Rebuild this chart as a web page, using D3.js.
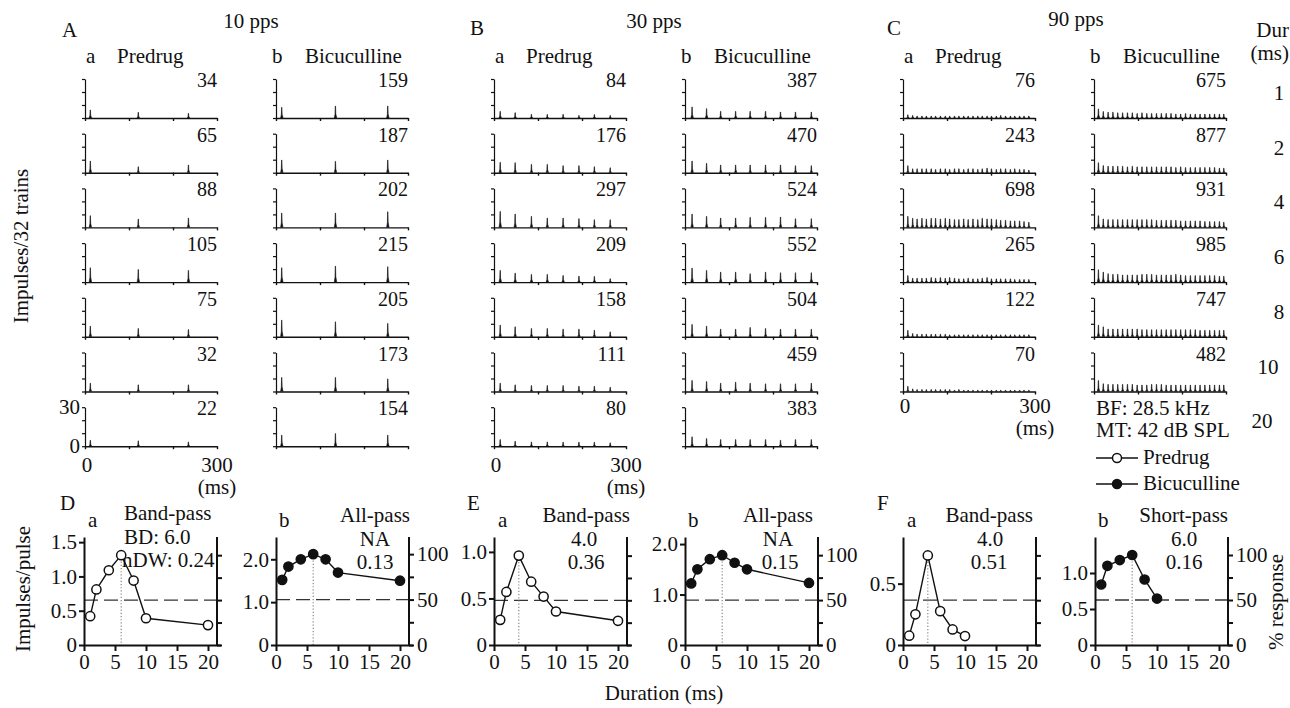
<!DOCTYPE html>
<html>
<head>
<meta charset="utf-8">
<script src="https://cdnjs.cloudflare.com/ajax/libs/d3/7.8.5/d3.min.js"></script>
<style>
  body { margin: 0; background: #fff; }
  svg { display: block; }
  text { font-family: "Liberation Serif", "Times New Roman", serif; fill: #111; }
</style>
</head>
<body>
<div id="chart"></div>
<script>
// ---- data ----
const durations = [1, 2, 4, 6, 8, 10, 20];
const durLabels = ["1", "2", "4", "6", "8", "10", "20"];

// total impulses per duration (rows)
const countsA_pre = [34, 65, 88, 105, 75, 32, 22];
const countsA_bic = [159, 187, 202, 215, 205, 173, 154];
const countsB_pre = [84, 176, 297, 209, 158, 111, 80];
const countsB_bic = [387, 470, 524, 552, 504, 459, 383];
const countsC_pre = [76, 243, 698, 265, 122, 70];
const countsC_bic = [675, 877, 931, 985, 747, 482];

// pulse response times in the histograms (ms)
const timesA_pre = [12, 121, 235];
const timesA_bic = [13, 135, 254];
const timesB_pre = [14, 48, 85, 121, 157, 193, 228, 264];
const timesB_bic = [16, 49, 81, 115, 148, 183, 217, 251, 287];
const timesC_pre = [11, 22, 32, 43, 53, 64, 74, 85, 96, 106, 117, 127, 138, 148, 159, 170, 180, 191, 201, 212, 222, 233, 244, 254, 265, 275, 286];
const timesC_bic = [10, 21, 32, 43, 54, 65, 76, 87, 98, 109, 120, 131, 142, 153, 164, 175, 186, 197, 208, 219, 230, 241, 252, 263, 274, 285, 295];

// peak bin heights (impulses/32 trains), one list per duration row
const peaksA_pre = [
  [6.2, 4.4, 3.6], [9.0, 4.6, 5.9], [9.0, 6.4, 7.2], [11, 9.7, 9.0],
  [8.2, 6.4, 5.6], [6.4, 5.1, 5.1], [4.6, 4.1, 3.3]
];
const peaksA_bic = [
  [8.2, 9.2, 9.2], [9.7, 8.7, 9.7], [11, 11, 12], [11, 12.3, 11.8],
  [12.8, 11.5, 10.3], [10.8, 10.8, 9.7], [8.5, 9.7, 8.5]
];
const peaksB_pre = [
  [5.1, 4.1, 2.8, 2.8, 2.8, 2.0, 2.6, 2.0],
  [8.0, 7.7, 6.4, 6.4, 5.4, 5.4, 4.6, 3.8],
  [12.3, 10.3, 8.5, 7.2, 7.2, 6.7, 5.9, 5.9],
  [9.0, 6.9, 5.9, 5.9, 5.1, 4.6, 4.4, 2.6],
  [9.0, 7.7, 6.4, 6.4, 5.9, 5.9, 5.1, 3.8],
  [6.4, 5.1, 4.6, 4.6, 4.6, 4.1, 4.1, 3.3],
  [5.1, 3.8, 3.3, 3.3, 3.1, 3.1, 3.1, 2.6]
];
const peaksB_bic = [
  [8.5, 7.2, 5.1, 5.1, 5.1, 5.1, 4.6, 4.6, 4.6],
  [9.0, 7.2, 5.9, 5.9, 5.9, 5.9, 5.9, 5.4, 5.4],
  [10.3, 8.5, 7.2, 7.2, 7.7, 7.7, 8.0, 6.7, 6.7],
  [10.8, 9.0, 7.7, 7.7, 6.4, 7.7, 7.2, 7.2, 7.2],
  [9.5, 8.2, 5.9, 5.9, 7.2, 6.4, 5.9, 5.9, 5.9],
  [8.5, 7.7, 6.4, 7.2, 6.4, 5.9, 5.9, 5.9, 6.4],
  [7.2, 5.9, 5.1, 5.1, 5.1, 5.1, 4.6, 5.1, 5.1]
];
const peaksC_pre = [
  [2.5, 2, 1.5, 1.5, 1.5, 1.5, 1.5, 1.5, 1.5, 1.5, 1.5, 1.5, 1.5, 1.5, 1.5, 1.5, 1.5, 1.5, 1.5, 1.5, 2, 1.5, 1.5, 1.5, 1.5, 1.5, 1.5],
  [5.4, 3, 3, 3, 3, 3, 2.5, 3, 3, 2.5, 3, 3, 2.5, 3, 3, 2.5, 3, 3.5, 3, 2.5, 3, 3, 2.5, 3, 2.5, 2.5, 2],
  [8.5, 7, 6.5, 7, 6.5, 7, 7, 6.5, 7, 6.5, 6, 6, 6.5, 6, 6.5, 6, 7, 6.5, 6.5, 6, 5.5, 5.5, 5, 5, 5, 4.5, 4],
  [5, 3, 3, 3, 3, 3.5, 3, 3.5, 3, 3.5, 3, 2.5, 2.5, 3, 2.5, 2.5, 3, 3.5, 2.5, 2.5, 2.5, 2.5, 2.5, 2, 2, 2, 2],
  [5, 2.5, 2, 2, 2, 2, 2, 2, 2, 1.5, 1.5, 1.5, 1.5, 1.5, 1.5, 1.5, 1.5, 1.5, 1.5, 1.5, 1.5, 1.5, 1.5, 1.5, 1.5, 1.5, 1.5],
  [4, 2, 1.5, 1.5, 1.5, 1.5, 1.5, 1.5, 1.5, 1.5, 1, 1.5, 1, 1, 1, 1, 1, 1, 1, 1, 1, 1, 1, 1, 1, 1, 1]
];
const peaksC_bic = [
  [7, 5, 4.5, 4.5, 4, 4, 4, 4, 3.5, 4, 3.5, 3.5, 3.5, 3.5, 3.5, 3.5, 3, 3, 3.5, 3, 3, 3, 3, 3, 3, 3, 3],
  [7.7, 5.5, 5, 5, 5, 5, 4.5, 5, 4.5, 4.5, 4.5, 4.5, 4.5, 4.5, 4.5, 4.5, 4, 4.5, 4, 4, 4, 4, 4, 4, 4, 3.5, 3.5],
  [9, 6.5, 6, 6, 6, 6, 6, 6, 6, 6, 6, 6, 5.5, 5.5, 5.5, 5.5, 5.5, 5, 5, 5, 5, 5, 4.5, 4.5, 4.5, 4.5, 4],
  [9.5, 7.7, 6.5, 6, 6, 5.5, 5.5, 5.5, 5.5, 6, 6, 6, 5.5, 5.5, 5.5, 5.5, 6, 5.5, 5, 5, 5, 5, 5, 5, 5, 4.5, 4.5],
  [9, 7.7, 6, 6, 6, 6, 6, 6, 6, 5.5, 5.5, 5.5, 5.5, 5.5, 5.5, 5.5, 5.5, 5.5, 5.5, 5.5, 5.5, 5, 5, 5, 5, 5, 5],
  [8.5, 6, 5.5, 5.5, 5.5, 5.5, 5.5, 5.5, 5, 5, 5, 5.5, 5.5, 5.5, 5, 5, 5, 5, 5, 5, 5, 5, 5, 5, 5, 5, 5]
];

// impulses per pulse vs duration
const ippD_pre = [0.42, 0.81, 1.09, 1.31, 0.94, 0.39, 0.29];
const ippD_bic = [1.52, 1.83, 2.00, 2.12, 2.00, 1.69, 1.50];
const ippE_pre = [0.27, 0.57, 0.96, 0.68, 0.52, 0.36, 0.26];
const ippE_bic = [1.22, 1.50, 1.70, 1.78, 1.63, 1.50, 1.23];
const ippF_pre = [0.076, 0.25, 0.73, 0.276, 0.127, 0.073];
const ippF_bic = [0.84, 1.10, 1.18, 1.25, 0.91, 0.645];

const filterTypes = ["Band-pass", "All-pass", "Band-pass", "All-pass", "Band-pass", "Short-pass"];
const bdLabels = ["BD: 6.0", "NA", "4.0", "NA", "4.0", "6.0"];
const ndwLabels = ["nDW: 0.24", "0.13", "0.36", "0.15", "0.51", "0.16"];

// ---- layout ----
const W = 1290, H = 708;
const FS = 21;

const svg = d3.select("#chart").append("svg")
  .attr("width", W).attr("height", H)
  .attr("viewBox", [0, 0, W, H]);

function txt(x, y, s, anchor, size) {
  return svg.append("text")
    .attr("x", x).attr("y", y)
    .attr("text-anchor", anchor || "start")
    .attr("font-size", size || FS)
    .text(s);
}

function styleAxis(g, sw) {
  g.selectAll("path, line").attr("stroke", "#111").attr("stroke-width", sw);
  g.selectAll("text")
    .attr("font-family", '"Liberation Serif", "Times New Roman", serif')
    .attr("font-size", FS).attr("fill", "#111");
}

// ---- top: PSTH rows ----
const rowBase0 = 118, rowStep = 54.7, rowH = 39, panelW = 132;

const topPanels = [
  { x0: 85,   counts: countsA_pre, times: timesA_pre, peaks: peaksA_pre },
  { x0: 276,  counts: countsA_bic, times: timesA_bic, peaks: peaksA_bic },
  { x0: 494,  counts: countsB_pre, times: timesB_pre, peaks: peaksB_pre },
  { x0: 685,  counts: countsB_bic, times: timesB_bic, peaks: peaksB_bic },
  { x0: 903,  counts: countsC_pre, times: timesC_pre, peaks: peaksC_pre },
  { x0: 1094, counts: countsC_bic, times: timesC_bic, peaks: peaksC_bic }
];

const spikeShape = [[-2.6, 0], [-0.9, 0.3], [-0.3, 1], [0.4, 1], [0.9, 0.35], [3, 0]];

topPanels.forEach((p, pi) => {
  const x = d3.scaleLinear([0, 300], [p.x0, p.x0 + panelW]);
  p.counts.forEach((c, ri) => {
    const base = rowBase0 + rowStep * ri;
    const y = d3.scaleLinear([0, 30], [base, base - rowH]);

    const spike = d3.line().x(d => d[0]).y(d => d[1]);
    p.times.forEach((t, k) => {
      const h = p.peaks[ri][k];
      svg.append("path")
        .attr("d", spike(spikeShape.map(s => [x(t + s[0]), y(h * s[1])])))
        .attr("fill", "#111").attr("stroke", "#111").attr("stroke-width", 0.6);
    });

    const showY = pi === 0 && ri === p.counts.length - 1;
    const gy = svg.append("g")
      .attr("transform", `translate(${p.x0},0)`)
      .call(d3.axisLeft(y).tickValues([0, 10, 20, 30]).tickSize(3).tickSizeOuter(0)
        .tickPadding(2)
        .tickFormat(d => showY && (d === 0 || d === 30) ? d : ""));
    styleAxis(gy, 1.2);

    const gx = svg.append("g")
      .attr("transform", `translate(0,${base})`)
      .call(d3.axisBottom(x).tickValues([0, 100, 200, 300]).tickSize(3).tickSizeOuter(0).tickFormat(""));
    styleAxis(gx, 1.4);

    txt(p.x0 + panelW, base - rowH + 8, c, "end", 20);
  });
});

// time axis labels under the last row
[[85, 472, 494], [494, 472, 494], [903, 413, 435]].forEach(([x0, b1, b2]) => {
  txt(x0 + 2, b1, "0", "middle");
  txt(x0 + panelW, b1, "300", "middle");
  txt(x0 + panelW, b2, "(ms)", "middle");
});

// column headings
txt(62, 37, "A"); txt(251, 28, "10 pps", "middle");
txt(470, 35, "B"); txt(654, 28, "30 pps", "middle");
txt(887, 35, "C"); txt(1076, 26, "90 pps", "middle");
[[85, 276], [494, 685], [903, 1094]].forEach(([xa, xb]) => {
  txt(xa + 1, 63, "a"); txt(xa + 32, 63, "Predrug");
  txt(xb - 4, 63, "b"); txt(xb + 29, 63, "Bicuculline");
});

// duration column
txt(1289, 37, "Dur", "end");
txt(1289, 60, "(ms)", "end");
const durX = [1279, 1279, 1279, 1279, 1279, 1268, 1262];
durLabels.forEach((d, i) => txt(durX[i], rowBase0 - rowH + 21 + rowStep * i, d, "middle"));

svg.append("text")
  .attr("transform", "translate(28,246) rotate(-90)")
  .attr("text-anchor", "middle").attr("font-size", FS)
  .text("Impulses/32 trains");

// unit info + legend
txt(1096, 415, "BF: 28.5 kHz");
txt(1096, 437, "MT: 42 dB SPL");
[{ y: 458, filled: false, label: "Predrug" }, { y: 484, filled: true, label: "Bicuculline" }].forEach(l => {
  svg.append("line").attr("x1", 1096).attr("x2", 1138).attr("y1", l.y).attr("y2", l.y)
    .attr("stroke", "#111").attr("stroke-width", 1.6);
  svg.append("circle").attr("cx", 1117).attr("cy", l.y).attr("r", 4.5)
    .attr("fill", l.filled ? "#111" : "#fff").attr("stroke", "#111").attr("stroke-width", 1.5);
  txt(1143, l.y + 6, l.label);
});

// ---- bottom: impulses/pulse vs duration ----
const yBase = 645, yTop = 537, pxPerMs = 6.2;

const bottomPanels = [
  { x0: 84,   vals: ippD_pre, filled: false, ymax: 1.575, ticks: [0, 0.5, 1, 1.5], right: false },
  { x0: 276,  vals: ippD_bic, filled: true,  ymax: 2.52,  ticks: [0, 1, 2],        right: true },
  { x0: 494,  vals: ippE_pre, filled: false, ymax: 1.16,  ticks: [0, 0.5, 1],      right: false },
  { x0: 685,  vals: ippE_bic, filled: true,  ymax: 2.14,  ticks: [0, 1, 2],        right: true },
  { x0: 903,  vals: ippF_pre, filled: false, ymax: 0.88,  ticks: [0, 0.5],         right: false },
  { x0: 1095, vals: ippF_bic, filled: true,  ymax: 1.5,   ticks: [0, 0.5, 1],      right: true }
];

const textPos = [
  { type: [124, 520, "start"], bd: [124, 544, "start"], ndw: [122, 567, "start"] },
  { type: [410, 522, "end"],   bd: [375, 546, "middle"], ndw: [375, 569, "middle"] },
  { type: [630, 522, "end"],   bd: [584, 546, "middle"], ndw: [586, 569, "middle"] },
  { type: [813, 522, "end"],   bd: [778, 546, "middle"], ndw: [780, 569, "middle"] },
  { type: [1033, 522, "end"],  bd: [990, 546, "middle"], ndw: [989, 569, "middle"] },
  { type: [1228, 522, "end"],  bd: [1184, 546, "middle"], ndw: [1184, 569, "middle"] }
];

txt(60, 510, "D"); txt(467, 510, "E"); txt(877, 510, "F");

const fmt = d => d === 0 ? "0" : d3.format(".1f")(d);

bottomPanels.forEach((p, i) => {
  const x = d3.scaleLinear([0, 22], [p.x0, p.x0 + 22 * pxPerMs]);
  const y = d3.scaleLinear([0, p.ymax], [yBase, yTop]);
  const peak = d3.max(p.vals);
  const bd = durations[p.vals.indexOf(peak)];
  const yPct = d3.scaleLinear([0, p.ymax / peak * 100], [yBase, yTop]);
  const xRight = x(21.45);
  const pts = p.vals.map((v, k) => [durations[k], v]);

  // annotations (drawn under the marks)
  const tp = textPos[i];
  txt(tp.type[0], tp.type[1], filterTypes[i], tp.type[2]);
  txt(tp.bd[0], tp.bd[1], bdLabels[i], tp.bd[2]);
  txt(tp.ndw[0], tp.ndw[1], ndwLabels[i], tp.ndw[2]);
  txt(p.x0 + (i % 2 ? 3 : 4), 527, i % 2 ? "b" : "a");

  // 50% line
  svg.append("line")
    .attr("x1", x(0)).attr("x2", x(22))
    .attr("y1", y(peak / 2)).attr("y2", y(peak / 2))
    .attr("stroke", "#333").attr("stroke-width", 1.3).attr("stroke-dasharray", "14,6");

  // best duration marker
  svg.append("line")
    .attr("x1", x(bd)).attr("x2", x(bd))
    .attr("y1", y(peak)).attr("y2", y(0))
    .attr("stroke", "#888").attr("stroke-width", 1.2).attr("stroke-dasharray", "1.2,2");

  const gl = svg.append("g").attr("transform", `translate(${p.x0},0)`)
    .call(d3.axisLeft(y).tickValues(p.ticks).tickSize(5).tickSizeOuter(0).tickPadding(2).tickFormat(fmt));
  styleAxis(gl, 2);

  const gr = svg.append("g").attr("transform", `translate(${xRight},0)`)
    .call(d3.axisRight(yPct).tickValues([0, 25, 50, 75, 100]).tickSize(5).tickSizeOuter(0).tickPadding(3)
      .tickFormat(d => p.right && d % 50 === 0 ? d : ""));
  gr.select(".domain").attr("d", `M0,${yBase}V${yTop}`);
  styleAxis(gr, 2);

  const gx = svg.append("g").attr("transform", `translate(0,${yBase})`)
    .call(d3.axisBottom(x).tickValues([0, 5, 10, 15, 20]).tickSize(6).tickSizeOuter(0).tickPadding(3));
  styleAxis(gx, 2);

  svg.append("path")
    .attr("d", d3.line().x(d => x(d[0])).y(d => y(d[1]))(pts))
    .attr("fill", "none").attr("stroke", "#111").attr("stroke-width", 1.4);

  svg.append("g").selectAll("circle").data(pts).join("circle")
    .attr("cx", d => x(d[0])).attr("cy", d => y(d[1])).attr("r", 4.6)
    .attr("fill", p.filled ? "#111" : "#fff")
    .attr("stroke", "#111").attr("stroke-width", 1.5);
});

svg.append("text")
  .attr("transform", "translate(30,589) rotate(-90)")
  .attr("text-anchor", "middle").attr("font-size", FS)
  .text("Impulses/pulse");

svg.append("text")
  .attr("transform", "translate(1283,602) rotate(-90)")
  .attr("text-anchor", "middle").attr("font-size", FS)
  .text("% response");

txt(664, 700, "Duration (ms)", "middle");
</script>
</body>
</html>
